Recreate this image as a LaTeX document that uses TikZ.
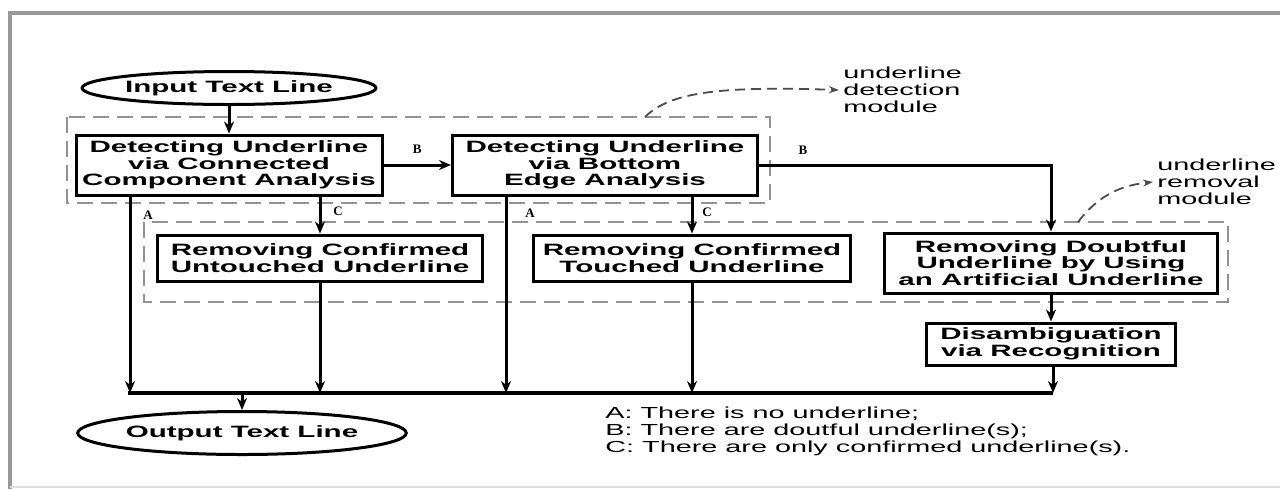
\documentclass[tikz,border=0pt]{standalone}
\usepackage{fontspec}
\setmainfont{Liberation Sans}[FakeStretch=1.8]
\newfontfamily\labfont{Liberation Serif}
\usetikzlibrary{arrows.meta,shapes.geometric}
\begin{document}
\begin{tikzpicture}[x=0.5pt,y=-0.5pt,
  box/.style={draw, line width=1.5pt, align=center, inner sep=0pt,
    font=\fontsize{8.2pt}{8.3pt}\selectfont\bfseries},
  oval/.style={ellipse, draw, line width=1.5pt, inner sep=0pt,
    font=\fontsize{8.2pt}{8.3pt}\selectfont\bfseries},
  arr/.style={line width=1.5pt, -{Stealth[length=6pt,width=5pt]}},
  ln/.style={line width=1.6pt},
  module/.style={draw=gray!85, line width=1.1pt, dash pattern=on 8pt off 4pt},
  modarr/.style={draw=gray!60!black, line width=0.9pt, dash pattern=on 5pt off 3pt, -{Stealth[length=5pt,width=3.5pt]}},
  lab/.style={font=\labfont\fontsize{6.5pt}{7pt}\selectfont\bfseries, inner sep=0pt},
  note/.style={align=left, inner sep=0pt, font=\fontsize{8pt}{8.5pt}\selectfont}
]
\useasboundingbox (0,0) rectangle (1280,489);
% frame
\draw[gray!80, line width=2pt] (10,489) -- (10,13) -- (1280,13);
\draw[gray!25, line width=1pt] (10,487) -- (1280,487);

% module boxes
\draw[module] (67,117) rectangle (770,203);
\draw[module] (144,222) rectangle (1228,302);

% nodes
\node[oval, minimum width=126pt, minimum height=16.5pt] (in) at (229,88) {Input Text Line};
\node[box, minimum width=153pt, minimum height=30pt] (d1) at (229,165) {Detecting Underline\\via Connected\\Component Analysis};
\node[box, minimum width=152.5pt, minimum height=30pt] (d2) at (605,165) {Detecting Underline\\via Bottom\\Edge Analysis};
\node[box, minimum width=162.5pt, minimum height=23pt] (r1) at (320,258) {Removing Confirmed\\Untouched Underline};
\node[box, minimum width=158.5pt, minimum height=23pt] (r2) at (692,258) {Removing Confirmed\\Touched Underline};
\node[box, minimum width=166.5pt, minimum height=30pt] (r3) at (1051,263) {Removing Doubtful\\Underline by Using\\an Artificial Underline};
\node[box, minimum width=124.5pt, minimum height=21pt] (dis) at (1051,344) {Disambiguation\\via Recognition};
\node[oval, minimum width=130pt, minimum height=21.5pt] (out) at (242,433) {Output Text Line};

% bus coordinates
\coordinate (bA1) at (130,393);
\coordinate (bC1) at (320,393);
\coordinate (bA2) at (506,393);
\coordinate (bC2) at (692,393);
\coordinate (bD) at (1053,393);
\coordinate (bL) at (128,393);
\coordinate (bO) at (242,393);

% connectors
\draw[arr] (in) -- (d1);
\draw[arr] (d1) -- (d2) node[lab, midway, above=5pt] {B};
\draw[arr] (d2.east) -| (r3.north);
\node[lab] (lb2) at (803,150) {B};

\draw[arr] (d1.south -| bA1) -- (bA1);
\node[lab] (la1) at (148,215) {A};
\draw[arr] (d1.south -| r1.north) -- (r1.north);
\node[lab] (lc1) at (338,211) {C};
\draw[arr] (r1.south) -- (bC1);

\draw[arr] (d2.south -| bA2) -- (bA2);
\node[lab] (la2) at (530,213) {A};
\draw[arr] (d2.south -| r2.north) -- (r2.north);
\node[lab] (lc2) at (707,212) {C};
\draw[arr] (r2.south) -- (bC2);

\draw[arr] (r3) -- (dis);
\draw[arr] (dis.south -| bD) -- (bD);

\draw[ln] (bL) -- (bD);
\draw[arr] (bO) -- (out.north);

% module labels
\node[note, anchor=west] (tdet) at (843,90) {underline\\detection\\module};
\node[note, anchor=west] (trem) at (1157,182) {underline\\removal\\module};
\coordinate (cdet) at (645,117);
\coordinate (crem) at (1078,222);
\draw[modarr] (cdet) .. controls (670,92) and (720,86) .. ([xshift=-2pt]tdet.west);
\draw[modarr] (crem) .. controls (1095,200) and (1115,186) .. ([xshift=-2pt]trem.west);

% legend
\node[note, anchor=north west] (leg) at (605,406) {A: There is no underline;\\B: There are doutful underline(s);\\C: There are only confirmed underline(s).};
\end{tikzpicture}
\end{document}
